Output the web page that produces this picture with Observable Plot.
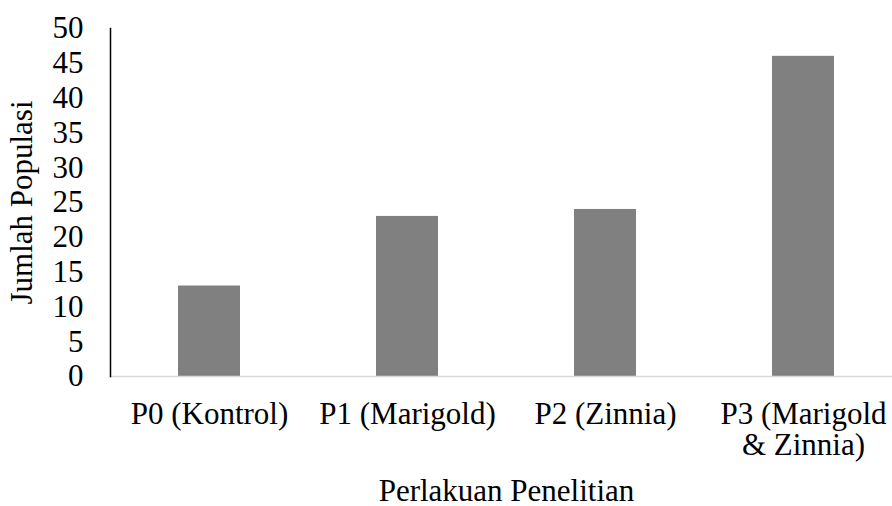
<!DOCTYPE html>
<html>
<head>
<meta charset="utf-8">
<script src="https://cdn.jsdelivr.net/npm/d3@7"></script>
<script src="https://cdn.jsdelivr.net/npm/@observablehq/plot@0.6"></script>
<style>
  html, body { margin: 0; padding: 0; background: #fff; }
  #chart svg, #chart svg text, #chart svg g { font-family: "Liberation Serif", "Times New Roman", serif !important; }
</style>
</head>
<body>
<div id="chart"></div>
<script>
const categories = ["P0 (Kontrol)", "P1 (Marigold)", "P2 (Zinnia)", "P3 (Marigold\n& Zinnia)"];
const values = [13, 23, 24, 46];
const yTicks = [0, 5, 10, 15, 20, 25, 30, 35, 40, 45, 50];
const yLabel = "Jumlah Populasi";
const xLabel = "Perlakuan Penelitian";

const data = categories.map((c, i) => ({category: c, value: values[i]}));
const font = "Liberation Serif";

const chart = Plot.plot({
  width: 892,
  height: 506,
  marginLeft: 110,
  marginRight: 0,
  marginTop: 28,
  marginBottom: 130,
  style: {fontFamily: font, fontSize: "31px", color: "#000", background: "#fff"},
  x: {domain: categories, range: [110, 902], paddingInner: 0.687, paddingOuter: 0.3435},
  y: {domain: [0, 50]},
  marks: [
    Plot.barY(data, {x: "category", y: "value", fill: "#808080"}),
    Plot.frame({anchor: "bottom", stroke: "#d9d9d9", strokeWidth: 1.5}),
    Plot.frame({anchor: "left", stroke: "#000", strokeWidth: 1.5}),
    Plot.axisY({ticks: yTicks, tickSize: 0, tickPadding: 27, label: null, fontSize: 31, fontFamily: font, tickFormat: d => String(d)}),
    Plot.axisX({tickSize: 0, tickPadding: 25, label: null, fontSize: 31, fontFamily: font, lineHeight: 1.0}),
    Plot.text([yLabel], {frameAnchor: "left", dx: -88, rotate: -90, textAnchor: "middle", lineAnchor: "middle", fontSize: 31, fontFamily: font, fill: "#000"}),
    Plot.text([xLabel], {frameAnchor: "bottom", dx: 5, dy: 115, textAnchor: "middle", lineAnchor: "middle", fontSize: 31, fontFamily: font, fill: "#000"})
  ]
});
document.getElementById("chart").appendChild(chart);
</script>
</body>
</html>
